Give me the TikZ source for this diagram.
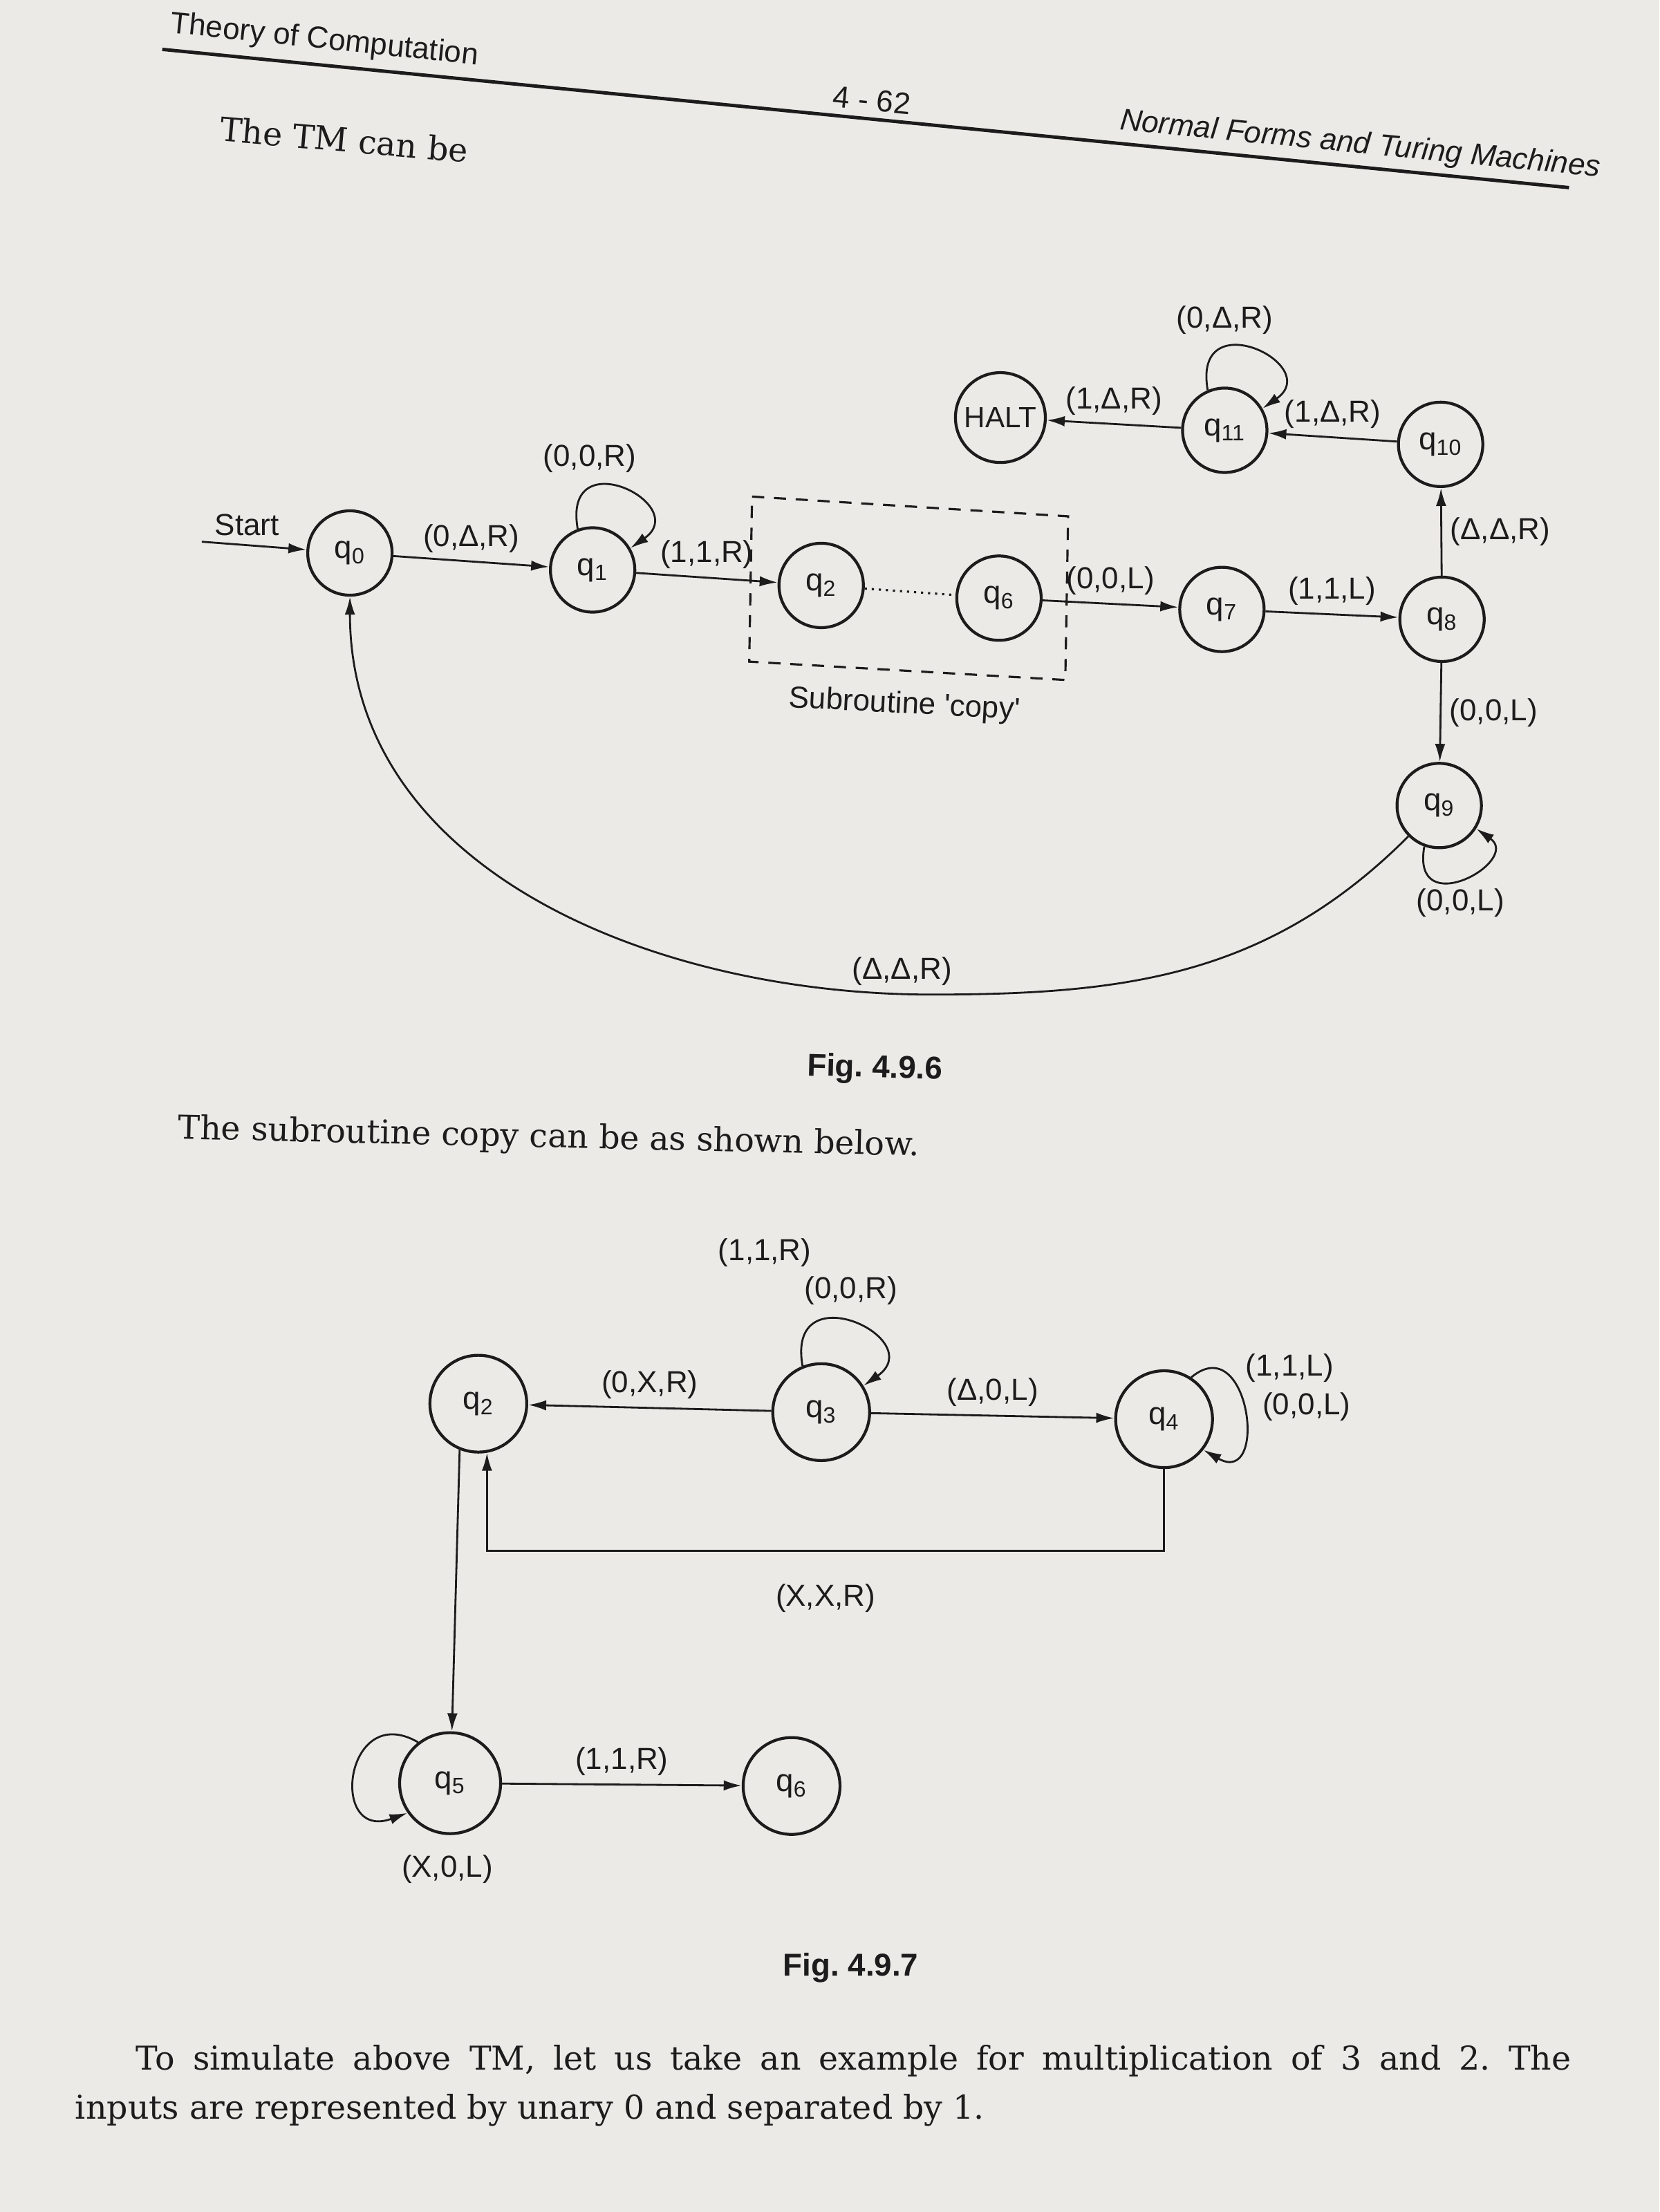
\documentclass[tikz,border=0pt]{standalone}
\usepackage{fontspec}
\setmainfont{DejaVu Serif}
\setsansfont{Liberation Sans}
\usetikzlibrary{arrows.meta}
\frenchspacing

\definecolor{paper}{RGB}{236,234,231}
\definecolor{ink}{RGB}{28,28,28}

\begin{document}
\begin{tikzpicture}[
    x=0.020408cm, y=0.020408cm,
    tmstate/.style={circle, draw=ink, line width=1.2pt, inner sep=0pt, minimum size=1.22cm, text=ink, font=\sffamily\fontsize{13}{15}\selectfont},
    bigstate/.style={tmstate, minimum size=1.4cm},
    tmedge/.style={draw=ink, line width=0.8pt, -{Latex[length=2.6mm,width=1.5mm]}},
    lbl/.style={text=ink, font=\sffamily\fontsize{12.5}{14}\selectfont},
    figlbl/.style={text=ink, font=\sffamily\bfseries\fontsize{13}{15}\selectfont},
    body/.style={text=ink, inner sep=0pt, font=\fontsize{13.5}{16}\selectfont}
]

\fill[paper] (0,0) rectangle (1176,-1568);
\useasboundingbox (0,0) rectangle (1176,-1568);

% page head
\draw[ink, line width=1.4pt] (115,-35) -- (1112,-133);
\node[lbl, rotate=-6] (bookname) at (230,-29) {Theory of Computation};
\node[lbl, rotate=-5.6] (pageno) at (618,-71) {4 - 62};
\node[lbl, font=\sffamily\itshape\fontsize{12.5}{14}\selectfont, rotate=-5.6] (chapter) at (964,-103) {Normal Forms and Turing Machines};
\node[body, rotate=-5] (intro) at (244,-99) {The TM can be};

% Fig. 4.9.6
\node[tmstate] (q0) at (248,-392) {q\textsubscript{0}};
\node[tmstate] (q1) at (420,-404) {q\textsubscript{1}};
\node[tmstate] (q2) at (582,-415) {q\textsubscript{2}};
\node[tmstate] (q6) at (708,-424) {q\textsubscript{6}};
\node[tmstate] (q7) at (866,-432) {q\textsubscript{7}};
\node[tmstate] (q8) at (1022,-439) {q\textsubscript{8}};
\node[tmstate] (q9) at (1020,-571) {q\textsubscript{9}};
\node[tmstate] (q10) at (1021,-315) {q\textsubscript{10}};
\node[tmstate] (q11) at (868,-305) {q\textsubscript{11}};
\node[tmstate, minimum size=1.3cm, font=\sffamily\fontsize{12}{14}\selectfont] (halt) at (709,-296) {HALT};

\node[lbl] (start) at (175,-372) {Start};
\coordinate (entry) at (143,-384);
\draw[tmedge] (entry) -- (q0);

\draw[tmedge] (q0) -- node[lbl, above] {(0,Δ,R)} (q1);
\draw[tmedge] (q1) -- node[lbl, above] {(1,1,R)} (q2);
\draw[ink, dotted, line width=0.9pt] (q2) -- (q6);
\draw[tmedge] (q6) -- node[lbl, above] {(0,0,L)} (q7);
\draw[tmedge] (q7) -- node[lbl, above] {(1,1,L)} (q8);
\draw[tmedge] (q8) -- node[lbl, right] {(Δ,Δ,R)} (q10);
\draw[tmedge] (q10) -- node[lbl, above] {(1,Δ,R)} (q11);
\draw[tmedge] (q11) -- node[lbl, above] {(1,Δ,R)} (halt);
\draw[tmedge] (q8) -- node[lbl, right] {(0,0,L)} (q9);

\draw[tmedge] (q1.110) .. controls +(100:64) and +(35:54) .. (q1.30);
\node[lbl] (loop1) at (418,-325) {(0,0,R)};
\draw[tmedge] (q11.113) .. controls +(100:64) and +(35:54) .. (q11.30);
\node[lbl] (loop11) at (868,-227) {(0,Δ,R)};
\draw[tmedge] (q9.-110) .. controls +(-100:55) and +(-35:40) .. (q9.-32);
\node[lbl] (loop9) at (1035,-640) {(0,0,L)};

\coordinate (low) at (660,-705);
\draw[tmedge] (q9) to[out=-135, in=0] node[lbl, pos=1, above, xshift=-12] {(Δ,Δ,R)} (low) to[out=180, in=-90] (q0);

\draw[ink, line width=0.9pt, dash pattern=on 5pt off 4pt] (533,-352) -- (757,-366) -- (755,-482) -- (531,-469) -- cycle;
\node[lbl, rotate=-3] (subr) at (641,-500) {Subroutine \textquotesingle copy\textquotesingle};

\node[figlbl, rotate=-1.5] (fig6) at (620,-758) {Fig. 4.9.6};
\node[body, rotate=-1.3] (copytext) at (389,-807) {The subroutine copy can be as shown below.};

% Fig. 4.9.7
\node[bigstate] (s2) at (339,-995) {q\textsubscript{2}};
\node[bigstate] (s3) at (582,-1001) {q\textsubscript{3}};
\node[bigstate] (s4) at (825,-1006) {q\textsubscript{4}};
\node[bigstate, minimum size=1.46cm] (s5) at (319,-1264) {q\textsubscript{5}};
\node[bigstate] (s6) at (561,-1266) {q\textsubscript{6}};

\draw[tmedge] (s3) -- node[lbl, above] {(0,X,R)} (s2);
\draw[tmedge] (s3) -- node[lbl, above] {(Δ,0,L)} (s4);
\draw[tmedge] (s4.south) -- ++(0,-58) -| node[lbl, below=10pt, pos=.25] {(X,X,R)} (s2.-80);
\draw[tmedge] (s2.-112) -- (s5.88);
\draw[tmedge] (s5) -- node[lbl, above] {(1,1,R)} (s6);

\draw[tmedge] (s3.112) .. controls +(100:68) and +(35:58) .. (s3.32);
\node[lbl] (loop3a) at (542,-888) {(1,1,R)};
\node[lbl] (loop3b) at (603,-915) {(0,0,R)};
\draw[tmedge] (s4.57) .. controls +(40:54) and +(-30:54) .. (s4.-38);
\node[lbl] (loop4a) at (914,-970) {(1,1,L)};
\node[lbl] (loop4b) at (926,-997) {(0,0,L)};
\draw[tmedge] (s5.128) .. controls +(150:60) and +(-160:60) .. (s5.-145);
\node[lbl] (loop5) at (317,-1325) {(X,0,L)};

\node[figlbl] (fig7) at (603,-1395) {Fig. 4.9.7};
\node[body, anchor=west] (para1) at (96,-1461) {\hbox to 20.75cm{To simulate above TM, let us take an example for multiplication of 3 and 2. The}};
\node[body, anchor=west] (para2) at (53,-1496) {inputs are represented by unary 0 and separated by 1.};

\end{tikzpicture}
\end{document}
